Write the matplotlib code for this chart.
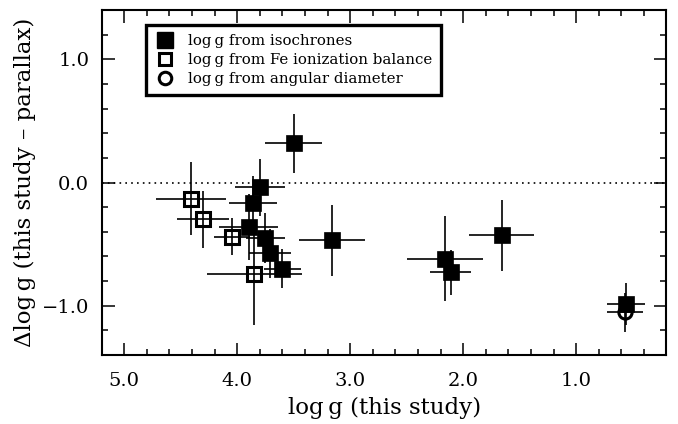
import matplotlib
matplotlib.use("Agg")
import matplotlib.pyplot as plt
from matplotlib.lines import Line2D
from matplotlib.ticker import MultipleLocator, FuncFormatter

plt.rcParams['font.family'] = ['DejaVu Serif']

# isochrone log g (filled squares)
iso_x = [3.50, 3.80, 3.86, 3.90, 3.75, 3.71, 3.60, 3.16, 2.16, 2.11, 1.66, 0.56]
iso_y = [0.32, -0.04, -0.17, -0.36, -0.45, -0.575, -0.70, -0.47, -0.62, -0.73, -0.43, -0.99]
iso_xerr = [0.25, 0.22, 0.21, 0.26, 0.17, 0.19, 0.16, 0.29, 0.34, 0.18, 0.29, 0.17]
iso_yerr = [0.24, 0.23, 0.22, 0.27, 0.20, 0.20, 0.16, 0.29, 0.345, 0.18, 0.29, 0.17]

# Fe ionization balance (open squares)
fe_x = [4.41, 4.30, 4.05, 3.85]
fe_y = [-0.13, -0.30, -0.44, -0.74]
fe_xerr = [0.31, 0.23, 0.16, 0.42]
fe_yerr = [0.30, 0.23, 0.15, 0.42]

# angular diameter (open circle)
ang_x = [0.565]
ang_y = [-1.054]
ang_xerr = [0.16]
ang_yerr = [0.16]

labels = ["log\u2009g from isochrones",
          "log\u2009g from Fe ionization balance",
          "log\u2009g from angular diameter"]

fig = plt.figure(figsize=(6.78, 4.24), dpi=100)
ax = fig.add_axes([0.150, 0.163, 0.833, 0.813])

ax.axhline(0.0, color='black', linestyle=(0, (1, 2.5)), linewidth=1.2, zorder=1)

ekw = dict(ecolor='black', elinewidth=1.2, capsize=0, linestyle='none', zorder=3)
ax.errorbar(iso_x, iso_y, xerr=iso_xerr, yerr=iso_yerr, marker='s', ms=11,
            mfc='black', mec='black', mew=0.5, **ekw)
ax.errorbar(fe_x, fe_y, xerr=fe_xerr, yerr=fe_yerr, marker='s', ms=9.5,
            mfc='none', mec='black', mew=2.2, **ekw)
ax.errorbar(ang_x, ang_y, xerr=ang_xerr, yerr=ang_yerr, marker='o', ms=9.5,
            mfc='none', mec='black', mew=2.2, **ekw)

ax.set_xlim(5.2, 0.2)
ax.set_ylim(-1.4, 1.4)
ax.xaxis.set_major_locator(MultipleLocator(1.0))
ax.xaxis.set_minor_locator(MultipleLocator(0.2))
ax.yaxis.set_major_locator(MultipleLocator(1.0))
ax.yaxis.set_minor_locator(MultipleLocator(0.2))
fmt = FuncFormatter(lambda v, p: ("%.1f" % v).replace("-", "\u2212"))
ax.xaxis.set_major_formatter(fmt)
ax.yaxis.set_major_formatter(fmt)
ax.tick_params(which='both', direction='in', top=True, right=True,
               width=1.1, labelsize=14)
ax.tick_params(axis='x', which='major', length=9, pad=12)
ax.tick_params(axis='y', which='major', length=9, pad=9)
ax.tick_params(which='minor', length=4.5)
for s in ax.spines.values():
    s.set_linewidth(1.5)

ax.set_xlabel("log\u2009g (this study)", fontsize=16.5, labelpad=5)
ax.set_ylabel("\u0394log\u2009g (this study \u2013 parallax)", fontsize=16.5, labelpad=4)

handles = [
    Line2D([], [], marker='s', ms=11, mfc='black', mec='black', linestyle='none'),
    Line2D([], [], marker='s', ms=9, mfc='none', mec='black', mew=2.2, linestyle='none'),
    Line2D([], [], marker='o', ms=9, mfc='none', mec='black', mew=2.2, linestyle='none'),
]
leg = ax.legend(handles, labels, loc='upper left', bbox_to_anchor=(0.078, 0.957),
                fontsize=10.8, frameon=True, fancybox=False, framealpha=1,
                handlelength=1.3, handletextpad=0.9, labelspacing=0.33,
                borderpad=0.6, borderaxespad=0.0)
leg.get_frame().set_edgecolor('black')
leg.get_frame().set_linewidth(2.4)

fig.savefig("out.png", dpi=100)
